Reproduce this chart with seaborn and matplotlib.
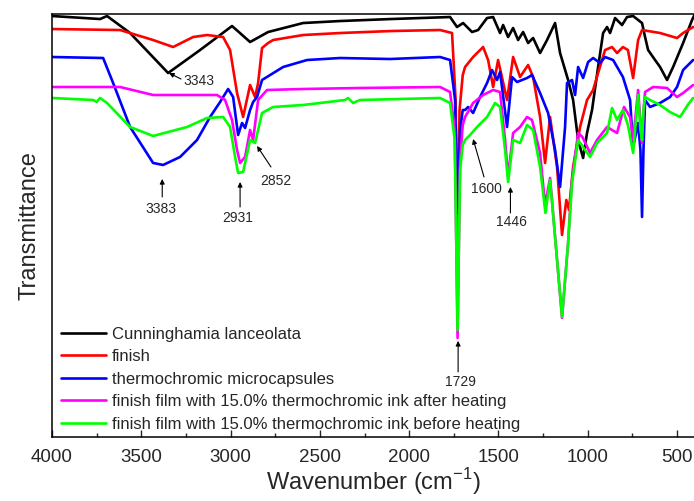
import pandas as pd
import numpy as np
import matplotlib
matplotlib.use("Agg")
import matplotlib.pyplot as plt
import seaborn as sns
from matplotlib.ticker import MultipleLocator

# spectra (wavenumber, transmittance in arbitrary units)
wn_black = [4000, 3731, 3692, 3563, 3350, 3171, 2992, 2891, 2790, 2594, 2387, 2100, 1771, 1732, 1698,
            1648, 1614, 1564, 1530, 1491, 1474, 1446, 1418, 1390, 1362, 1334, 1306, 1267, 1228, 1183,
            1155, 1110, 1082, 1054, 1026, 1004, 976, 942, 914, 892, 875, 847, 808, 780, 746, 696, 679,
            662, 623, 595, 556, 522, 466, 416, 400]
t_black = [421, 418, 421, 404, 364, 387, 411, 395, 405, 414, 416, 418, 420, 410, 414,
           405, 407, 419, 420, 404, 412, 400, 409, 397, 405, 394, 399, 384, 397, 414,
           384, 357, 337, 297, 279, 304, 327, 370, 404, 410, 404, 419, 412, 420, 421, 414, 400,
           387, 377, 370, 357, 370, 394, 417, 423]

wn_red = [4000, 3619, 3434, 3322, 3210, 3132, 3042, 3003, 2964, 2930, 2891, 2863, 2846, 2824, 2790,
          2762, 2594, 2387, 2100, 1827, 1760, 1740, 1729, 1718, 1700, 1687, 1642, 1586, 1558, 1530,
          1502, 1452, 1418, 1379, 1334, 1306, 1267, 1239, 1211, 1172, 1144, 1120, 1105, 1082, 1043,
          1004, 970, 942, 903, 864, 836, 803, 775, 746, 718, 696, 595, 500, 466, 410]
t_red = [408, 407, 397, 390, 400, 402, 400, 387, 344, 320, 352, 340, 354, 389, 394,
         397, 402, 404, 406, 407, 404, 337, 185, 327, 362, 370, 380, 390, 377, 350,
         377, 337, 380, 360, 372, 360, 320, 274, 320, 270, 202, 237, 227, 270, 310,
         337, 347, 364, 387, 390, 384, 390, 387, 359, 397, 407, 404, 399, 404, 410]

wn_blue = [4000, 3714, 3658, 3563, 3434, 3378, 3283, 3188, 3115, 3059, 3014, 2986, 2958, 2936, 2919,
           2891, 2874, 2852, 2824, 2706, 2572, 2387, 2107, 1827, 1771, 1743, 1729, 1715, 1700, 1687,
           1670, 1642, 1603, 1564, 1536, 1508, 1491, 1452, 1424, 1396, 1340, 1312, 1267, 1222, 1183,
           1155, 1127, 1116, 1088, 1071, 1054, 1026, 998, 970, 931, 903, 858, 803, 763, 746, 718,
           705, 696, 688, 679, 651, 595, 539, 500, 466, 410]
t_blue = [380, 379, 354, 310, 274, 272, 280, 297, 320, 335, 348, 340, 302, 314, 309,
          327, 335, 340, 357, 370, 377, 379, 378, 380, 377, 337, 224, 307, 327, 327,
          330, 324, 340, 354, 367, 357, 365, 310, 360, 355, 359, 362, 344, 324, 287,
          250, 310, 354, 357, 342, 370, 359, 375, 379, 374, 380, 377, 360, 337, 290, 314,
          287, 220, 287, 337, 330, 334, 340, 350, 367, 377]

wn_mag = [4000, 3619, 3434, 3244, 3076, 3031, 2992, 2964, 2947, 2919, 2891, 2874, 2846, 2796, 2594,
          2275, 1827, 1771, 1745, 1729, 1715, 1700, 1687, 1642, 1586, 1530, 1491, 1463, 1446, 1418,
          1379, 1340, 1312, 1267, 1239, 1211, 1144, 1110, 1090, 1054, 1030, 987, 948, 892, 836,
          797, 763, 746, 730, 718, 705, 696, 688, 679, 634, 556, 500, 466, 410]
t_mag = [350, 350, 342, 342, 342, 337, 317, 287, 274, 280, 307, 297, 337, 347, 348,
         349, 350, 345, 307, 99, 277, 312, 320, 334, 342, 347, 345, 297, 260, 304,
         310, 320, 317, 284, 232, 259, 119, 194, 254, 304, 300, 284, 297, 310, 304,
         330, 320, 297, 325, 347, 315, 294, 325, 345, 350, 349, 340, 344, 352]

wn_green = [4000, 3770, 3750, 3731, 3692, 3563, 3434, 3244, 3132, 3042, 3003, 2975, 2958, 2930, 2891,
            2863, 2824, 2762, 2594, 2359, 2342, 2314, 2275, 1827, 1771, 1745, 1729, 1715, 1700, 1687,
            1659, 1620, 1564, 1519, 1491, 1463, 1446, 1418, 1379, 1340, 1306, 1267, 1237, 1211, 1144,
            1110, 1088, 1054, 987, 948, 892, 864, 836, 803, 775, 746, 730, 718, 705, 696, 688, 679,
            651, 595, 540, 483, 440, 410]
t_green = [339, 337, 335, 339, 334, 310, 301, 310, 319, 320, 310, 280, 264, 265, 297,
           294, 324, 330, 332, 337, 339, 334, 337, 339, 334, 297, 107, 267, 292, 297,
           302, 310, 320, 334, 330, 287, 255, 297, 294, 312, 307, 270, 224, 257, 120,
           194, 254, 297, 280, 294, 304, 329, 317, 327, 312, 284, 317, 342, 307, 297, 327, 340,
           337, 332, 325, 320, 332, 339]

labels = ["Cunninghamia lanceolata", "finish", "thermochromic microcapsules",
          "finish film with 15.0% thermochromic ink after heating",
          "finish film with 15.0% thermochromic ink before heating"]
colors = ["#000000", "#ff0000", "#0000ff", "#ff00ff", "#00ff00"]

# peak labels: text, text position, arrow start, arrow tip
peaks = [("3343", (3262, 356), (3278, 358), (3345, 364)),
         ("3383", (3390, 228), (3383, 240), (3383, 258)),
         ("2931", (2958, 219), (2947, 230), (2947, 255)),
         ("2852", (2746, 256), (2774, 270), (2852, 291)),
         ("1600", (1570, 248), (1581, 260), (1642, 298)),
         ("1446", (1430, 215), (1433, 224), (1433, 250)),
         ("1729", (1715, 55), (1726, 65), (1726, 96))]

frames = []
for lab, w, t in zip(labels, [wn_black, wn_red, wn_blue, wn_mag, wn_green],
                     [t_black, t_red, t_blue, t_mag, t_green]):
    frames.append(pd.DataFrame({"wn": w, "T": t, "sample": lab}))
df = pd.concat(frames, ignore_index=True)

sns.set_style("ticks")
plt.rcParams["font.family"] = ["Liberation Sans", "DejaVu Sans"]
plt.rcParams["mathtext.fontset"] = "custom"
plt.rcParams["mathtext.rm"] = "Liberation Sans"

fig = plt.figure(figsize=(6.94, 5.01), dpi=100)
ax = fig.add_axes([0.075, 0.128, 0.925, 0.844])

sns.lineplot(data=df, x="wn", y="T", hue="sample", hue_order=labels,
             palette=colors, estimator=None, linewidth=1.9, ax=ax)

for txt, tpos, a0, a1 in peaks:
    ax.text(tpos[0], tpos[1], txt, fontsize=10, ha="left" if txt == "3343" else "center",
            va="center")
    ax.annotate("", xy=a1, xytext=a0,
                arrowprops=dict(arrowstyle="-|>", color="black", lw=0.8,
                                mutation_scale=7, shrinkA=0, shrinkB=0))

ax.set_xlim(4000, 405)
ax.set_ylim(0, 423)
ax.xaxis.set_major_locator(MultipleLocator(500))
ax.xaxis.set_minor_locator(MultipleLocator(250))
ax.tick_params(axis="x", which="major", direction="in", length=5, width=1, labelsize=13.5, pad=9)
ax.tick_params(axis="x", which="minor", direction="in", length=3, width=1)
ax.set_yticks([])
ax.spines["right"].set_visible(False)
for s in ["left", "top", "bottom"]:
    ax.spines[s].set_linewidth(1.1)
    ax.spines[s].set_color("black")

ax.set_xlabel("Wavenumber (cm$^{\\mathrm{-1}}$)", fontsize=17, labelpad=0)
ax.set_ylabel("Transmittance", fontsize=17, labelpad=8)

ax.legend(loc="lower left", bbox_to_anchor=(-0.005, -0.015), frameon=False, fontsize=12,
          handlelength=2.7, handletextpad=0.4, labelspacing=0.45, borderaxespad=0.3)

fig.savefig("out.png", dpi=100)
